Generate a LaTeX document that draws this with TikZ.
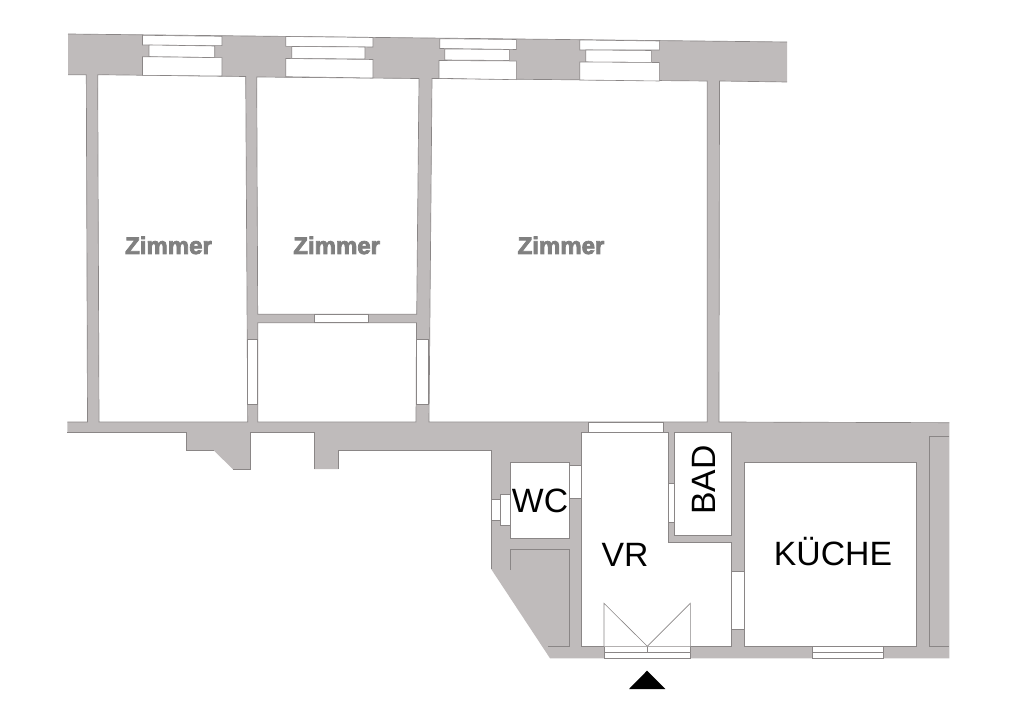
\documentclass[tikz,border=0pt]{standalone}
\usepackage{fontspec}
\setmainfont{Liberation Sans}
\newfontfamily\zimmerfont[UprightFont=*-Bold,RawFeature={embolden=3.2}]{Liberation Sans}
\usepackage{tikz}
\definecolor{wallgrey}{HTML}{BFBBBB}
\definecolor{wallline}{HTML}{8A8686}
\definecolor{zimmergrey}{HTML}{808080}
\tikzset{
    wall/.style={
           fill=wallgrey,
           draw=none,
           },
    walledge/.style={
           draw=wallline,
           line width=0.5pt,
           line join=miter,
           },
    room/.style={
           fill=white,
           draw=wallline,
           line width=0.5pt,
           },
    pane/.style={
           fill=white,
           draw=wallline,
           line width=0.45pt,
           },
    bigname/.style={
           inner sep=0pt,
           anchor=base,
           text=black,
           font=\fontsize{25.3}{30}\selectfont,
           },
    zimmername/.style={
           inner sep=0pt,
           anchor=base,
           text=zimmergrey,
           font=\zimmerfont\fontsize{18}{22}\selectfont,
           },
}

\begin{document}
\begin{tikzpicture}[x=0.75pt,y=-0.75pt]
        \useasboundingbox (0,0) rectangle (1024,723);

        % WALLS
        % one grey outline, the rooms are cut out of it further down
        \fill[wall] (68,34) -- (787,42) -- (787,82) -- (719.5,81) -- (719,422)
            -- (949.3,422.7) -- (949.3,658.3) -- (550,658.3) -- (491.3,569.3)
            -- (491.3,450.7) -- (338.3,450.7) -- (338.3,469) -- (314,469)
            -- (314,432.7) -- (250.7,432.7) -- (250.7,469) -- (232.7,469)
            -- (214,450.7) -- (186.7,450.7) -- (186.7,432.7) -- (67.3,432.7)
            -- (67.3,422) -- (87.5,422) -- (86.3,74.7) -- (68,74.7) -- cycle;
        \draw[walledge] (68,34) -- (787,42);
        \draw[walledge] (68,74.7) -- (86.3,74.7) -- (87.5,422) -- (67.3,422);
        \draw[walledge] (787,82) -- (719.5,81) -- (719,422) -- (949.3,422.7);
        \draw[walledge] (67.3,432.7) -- (186.7,432.7) -- (186.7,450.7) -- (214,450.7);
        \draw[walledge] (232.7,469) -- (250.7,469) -- (250.7,432.7) -- (314,432.7) -- (314,469);
        \draw[walledge] (338.3,469) -- (338.3,450.7) -- (491.3,450.7) -- (491.3,569.3);

        % ROOMS
        \draw[room] (97.7,74.7) -- (245.7,76.5) -- (247.7,422) -- (99,422) -- cycle;
        \draw[room] (256.7,77) -- (419,78.5) -- (416.7,314.3) -- (257.7,314.3) -- cycle;
        \draw[room] (257.7,322.7) -- (416.5,322.7) -- (416,422) -- (257.7,422) -- cycle;
        \draw[room] (432,78.5) -- (707.3,81) -- (707.3,422) -- (429,422) -- cycle;
        \draw[room] (510.7,462.3) rectangle (569.3,538.3); % wc
        \draw[room] (674.7,432.7) rectangle (731,535.3); % bad
        \draw[room] (744.3,462.3) rectangle (916,646.3); % kueche
        \draw[room] (581.7,432.7) -- (668.3,432.7) -- (668.3,542.5) -- (731.3,542.5)
            -- (731.3,646.3) -- (581.7,646.3) -- cycle; % vr

        % lines of the store next to the wc and of the niche next to the kitchen
        \draw[walledge] (510.7,570) -- (510.7,549.7) -- (569.3,549.7) -- (569.3,646.3) -- (548.3,646.3);
        \draw[walledge] (949.3,436) -- (929.3,436) -- (929.3,646.3) -- (949.3,646.3);

        % WINDOWS top wall
        \draw[pane] (142.5,35.3) -- (222,36.3) -- (222,45.7) -- (142.5,45) -- cycle;
        \draw[pane] (149,45) -- (214.7,46) -- (214.7,57.5) -- (149,56.7) -- cycle;
        \draw[pane] (142.5,56.7) -- (222,57.7) -- (222,76) -- (142.5,75.3) -- cycle;

        \draw[pane] (285.7,36.5) -- (373,37.5) -- (373,47) -- (285.7,46.3) -- cycle;
        \draw[pane] (291.7,46.5) -- (365,47) -- (365,59) -- (291.7,58.5) -- cycle;
        \draw[pane] (285.7,58.5) -- (373,59.5) -- (373,78) -- (285.7,76.7) -- cycle;

        \draw[pane] (439.7,38.7) -- (516.3,39.5) -- (516.3,49.5) -- (439.7,48.5) -- cycle;
        \draw[pane] (444.7,49) -- (509.3,49.5) -- (509.3,60.5) -- (444.7,60) -- cycle;
        \draw[pane] (439,60.5) -- (516.3,61) -- (516.3,79.7) -- (439,78.3) -- cycle;

        \draw[pane] (579.7,40) -- (659.3,41) -- (659.3,50) -- (579.7,50) -- cycle;
        \draw[pane] (585.7,50) -- (651.3,50.5) -- (651.3,62.5) -- (585.7,62) -- cycle;
        \draw[pane] (579.7,62) -- (659.3,62.5) -- (659.3,81) -- (579.7,80) -- cycle;

        % DOORS
        \draw[pane] (314,314.3) rectangle (368,322.7);
        \draw[pane] (247.7,339.3) rectangle (257.7,404.3);
        \draw[pane] (416,339.3) rectangle (428.7,404.3);
        \draw[pane] (588.7,422.7) rectangle (663.3,432.7);
        \draw[pane] (569.3,465.7) rectangle (581.7,498.3);
        \draw[pane] (668.3,483.7) rectangle (674.7,522.7);
        \draw[pane] (731.3,571.7) rectangle (744.3,629);

        % window of the wc
        \draw[pane] (491.3,499) rectangle (500.7,520.3);
        \draw[pane] (500.7,494.7) rectangle (510.7,525.3);

        % window of the kitchen
        \draw[pane] (812,646.3) rectangle (883.3,658.3);
        \draw[pane] (812,652.3) -- (883.3,652.3);

        % ENTRANCE
        \draw[pane] (604,646.3) rectangle (690.3,658.3);
        \draw[pane] (604,652.3) -- (690.3,652.3);
        \draw[pane] (647.3,646.3) -- (647.3,652.3);
        \draw[pane] (604,646.3) -- (604,603.3) -- (647.3,646.3) -- (690.3,603.3) -- (690.3,646.3);
        \fill[black] (647,670.7) -- (665.3,689) -- (629,689) -- cycle;

        % NAMES
        \node[zimmername] (ZIMMER_LEFT) at (168.5,254) {Zimmer};
        \node[zimmername] (ZIMMER_MID) at (336.7,254) {Zimmer};
        \node[zimmername] (ZIMMER_RIGHT) at (561,254) {Zimmer};
        \node[bigname] (NAME_WC) at (540,512) {WC};
        \node[bigname] (NAME_VR) at (625,566.7) {VR};
        \node[bigname] (NAME_KUECHE) at (833,565) {KÜCHE};
        \node[bigname, rotate=90] (NAME_BAD) at (715.7,480) {BAD};
\end{tikzpicture}
\end{document}
